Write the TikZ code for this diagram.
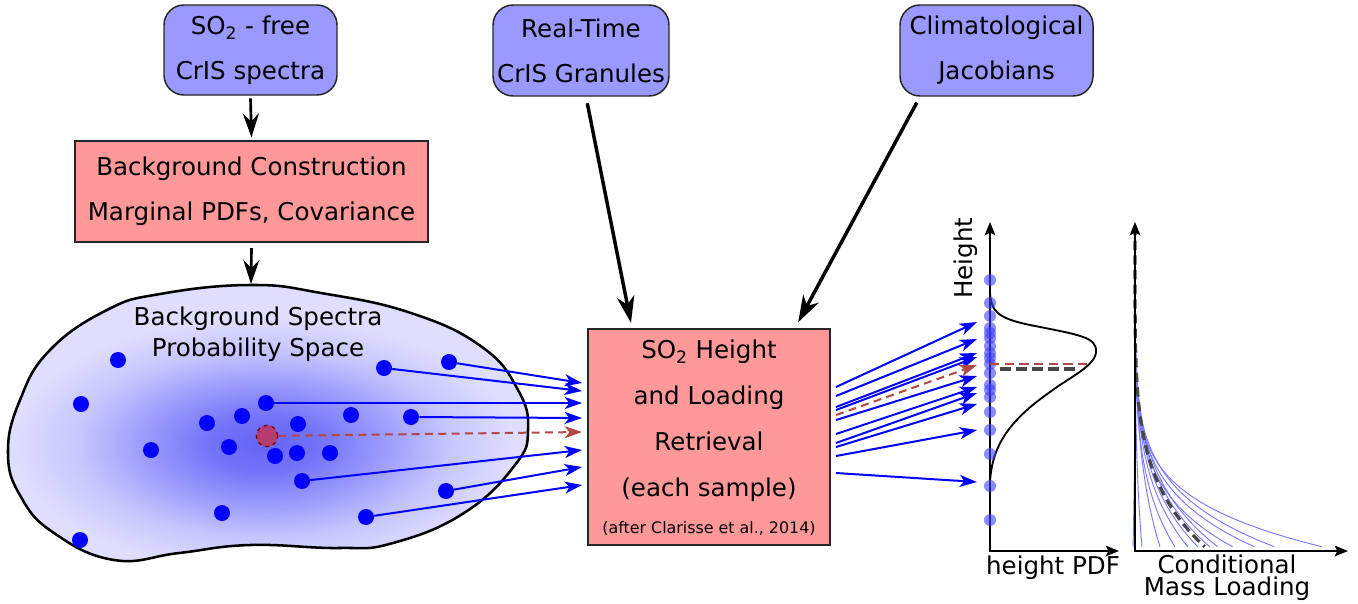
\documentclass[tikz,border=0pt]{standalone}
\usepackage{fontspec}
\setmainfont{DejaVu Sans}
\usetikzlibrary{arrows.meta}
\definecolor{boxblue}{RGB}{153,153,255}
\definecolor{boxred}{RGB}{255,153,153}
\definecolor{lav}{RGB}{222,222,255}
\definecolor{bc0}{RGB}{100,100,245}
\definecolor{bc1}{RGB}{115,115,248}
\definecolor{bc2}{RGB}{155,155,252}
\definecolor{bc3}{RGB}{198,198,254}
\definecolor{dotblue}{RGB}{0,0,255}
\definecolor{redd}{RGB}{180,70,70}
\definecolor{redfill}{RGB}{180,60,110}
\definecolor{darkg}{RGB}{70,70,70}
\definecolor{mlinec}{RGB}{120,120,255}
\definecolor{hblue}{RGB}{60,60,255}
\pgfdeclareradialshading{blobshade}{\pgfpointorigin}{color(0bp)=(bc0); color(5bp)=(bc1); color(11bp)=(bc2); color(17bp)=(bc3); color(23bp)=(lav); color(50bp)=(lav)}
\begin{document}
\begin{tikzpicture}[x=0.75pt,y=-0.75pt,
  font=\fontsize{18.4}{33.75}\selectfont,
  srcbox/.style={draw=black!85, line width=1.1pt, fill=boxblue, rounded corners=15pt, align=center, inner sep=0pt},
  procbox/.style={draw=black!85, line width=1.3pt, fill=boxred, align=center, inner sep=0pt},
  bigarrow/.style={line width=2pt, -{Stealth[length=18pt,width=12pt,inset=6pt]}},
  thickarrow/.style={line width=2.6pt, -{Stealth[length=20pt,width=13pt,inset=6pt]}},
  barrow/.style={draw=dotblue, line width=1.5pt, -{Stealth[length=13pt,width=9pt,inset=3.5pt]}},
  rarrow/.style={draw=redd, line width=1.5pt, dash pattern=on 6pt off 4pt, -{Stealth[length=13pt,width=9pt,inset=3.5pt]}},
  bdot/.style={circle, fill=dotblue, inner sep=0pt, minimum size=12pt},
  rdot/.style={circle, fill=redfill, draw=red!45!black, dashed, line width=0.9pt, inner sep=0pt, minimum size=16pt},
  hdot/.style={circle, fill=hblue, fill opacity=0.6, inner sep=0pt, minimum size=9pt},
  axisline/.style={line width=1.4pt, -{Stealth[length=10pt,width=8pt,inset=2pt]}},
  mline/.style={draw=mlinec, line width=0.7pt}
]
\useasboundingbox (0,0) rectangle (1358,603);

% ---------- boxes ----------
\node[srcbox, minimum width=129.75pt, minimum height=67.5pt] (A) at (250.5,50) {SO\textsubscript{2} - free\\CrIS spectra};
\node[srcbox, minimum width=132pt, minimum height=68.25pt] (C) at (581,50.5) {Real-Time\\CrIS Granules};
\node[srcbox, minimum width=144.75pt, minimum height=68.25pt] (D) at (996.5,50.5) {Climatological\\Jacobians};
\node[procbox, minimum width=264.75pt, minimum height=75.75pt] (B) at (251.5,191.5) {Background Construction\\Marginal PDFs, Covariance};
\node[procbox, minimum width=181.5pt, minimum height=162pt, font=\fontsize{18.4}{34.5}\selectfont, text depth=0pt] (E) at (709,437)
  {SO\textsubscript{2} Height\\and Loading\\Retrieval\\(each sample)\\[-7pt]{\fontsize{11.9}{14}\selectfont (after Clarisse et al., 2014)}};

% ---------- blob ----------
\def\blobpath{plot[smooth cycle,tension=0.75] coordinates {(250,285) (160,294) (107,310) (50,350) (20,400) (8,453) (21,497) (54,533) (114,560) (179,553) (250,545) (339,548) (393,543) (464,513) (515,465) (528,430) (518,390) (482,347) (411,313) (321,293)}}
\begin{scope}
  \clip \blobpath;
  \fill[lav] \blobpath;
  \shade[shading=blobshade] (264,444) ellipse (272 and 138);
\end{scope}
\draw[line width=1.9pt] \blobpath;
\node (blobtitle) at (258,334) [align=center, font=\fontsize{18.4}{23}\selectfont] {Background Spectra\\Probability Space};
\coordinate (blobtop) at (251,284);

% ---------- top connectors ----------
\draw[bigarrow] ([yshift=-2pt]A.south) -- ([yshift=2pt]B.north);
\draw[bigarrow] ([yshift=-4pt]B.south) -- (blobtop);
\draw[thickarrow, shorten <=5pt, shorten >=4pt] ([xshift=3.75pt]C.south) -- ([xshift=-57.75pt]E.north);
\draw[thickarrow, shorten <=5pt, shorten >=5pt] ([xshift=-57.4pt]D.south) -- ([xshift=64.5pt]E.north);

% ---------- blob dots ----------
\foreach \i/\p in {1/{118,360},2/{81,404},3/{151,450},4/{207,423},5/{242,416},6/{266,403},7/{229,447},8/{275,456},9/{297,453},10/{330,453},11/{298,424},12/{351,415},13/{411,417},14/{384,368},15/{449,362},16/{302,481},17/{222,513},18/{366,517},19/{446,491},20/{80,540}}
  \node[bdot] (d\i) at (\p) {};
\node[rdot] (r) at (267,436) {};

% targets on retrieval box
\coordinate (t1) at (582,383);
\coordinate (t2) at (582,391);
\coordinate (t3) at (582,403);
\coordinate (t4) at (582,418);
\coordinate (tr) at (582,432);
\coordinate (t5) at (582,450);
\coordinate (t6) at (582,467);
\coordinate (t7) at (582,485);
\draw[barrow] (d15) -- (t1);
\draw[barrow] (d14) -- (t2);
\draw[barrow] (d6) -- (t3);
\draw[barrow] (d13) -- (t4);
\draw[rarrow] (r) -- (tr);
\draw[barrow] (d16) -- (t5);
\draw[barrow] (d19) -- (t6);
\draw[barrow] (d18) -- (t7);

% ---------- height PDF plot ----------
\coordinate (ho) at (990,551);
\coordinate (htop) at (990,222);
\coordinate (hright) at (1119,551);
\draw[axisline] (ho) -- (htop);
\draw[line width=1.4pt, -{Stealth[length=10pt,width=8pt,inset=2pt]}] ([xshift=-0.7pt]ho) -- (hright);
\node[rotate=90] (hlabel) at (966,258) {Height};
\node[anchor=base] (hpdf) at (1053,574) {height PDF};

\draw[line width=1.4pt] (990,275) -- (990,293) .. controls (991,310) and (996,318) .. (1030,325)
  .. controls (1080,335) and (1097,337) .. (1096,352)
  .. controls (1095,366) and (1070,377) .. (1050,392)
  .. controls (1010,420) and (992,445) .. (990,482);

% arrows from retrieval to height axis
\foreach \i/\ys/\ye in {1/387/322,2/396/339,3/407/353,4/410/357,5/420/376,6/434/387,7/443/393,8/447/404,9/456/430,10/473/482}{
  \coordinate (s\i) at (836,\ys);
  \coordinate (e\i) at (977,\ye);
  \draw[barrow] (s\i) -- (e\i);
}
\coordinate (sr) at (836,415);
\coordinate (er) at (977,365);
\draw[rarrow] (sr) -- (er);

\foreach \i/\y in {1/280,2/303,3/316,4/328,5/333,6/338,7/346,8/353,9/358,10/364,11/373,12/385,13/390,14/397,15/412,16/430,17/454,18/486,19/520}
  \node[hdot] (hd\i) at (990,\y) {};

\coordinate (rl0) at (990,364);
\coordinate (rl1) at (1088,364);
\draw[draw=redd, line width=1.5pt, dash pattern=on 7pt off 4pt] (rl0) -- (rl1);
\coordinate (gl0) at (1000,369);
\coordinate (gl1) at (1076,369);
\draw[draw=darkg, line width=2.6pt, dash pattern=on 8pt off 4pt] (gl0) -- (gl1);

% ---------- mass loading plot ----------
\coordinate (mo) at (1135,551);
\coordinate (mtop) at (1135,222);
\coordinate (mright) at (1348,551);
\coordinate (mstart) at (1135,226);
\foreach \k/\n in {-2/4,7/4,25/4,40/5,53/5,63/5,75/5,83/5,98/6,120/6,140/6,188/7}
  \draw[mline] (mstart) -- plot[domain=0.02:1,samples=70,smooth] ({1135+\k*(\x)^\n},{225+322*\x});
\draw[draw=darkg, line width=2.4pt, dash pattern=on 7pt off 4pt] (mstart) -- plot[domain=0.02:1,samples=70,smooth] ({1135+70*(\x)^5},{225+322*\x});
\draw[axisline] (mo) -- (mtop);
\draw[line width=1.4pt, -{Stealth[length=10pt,width=8pt,inset=2pt]}] ([xshift=-0.7pt]mo) -- (mright);
\node[anchor=base, align=center, font=\fontsize{18.4}{16.5}\selectfont] (mlabel) at (1227,595) {Conditional\\Mass Loading};
\end{tikzpicture}
\end{document}
